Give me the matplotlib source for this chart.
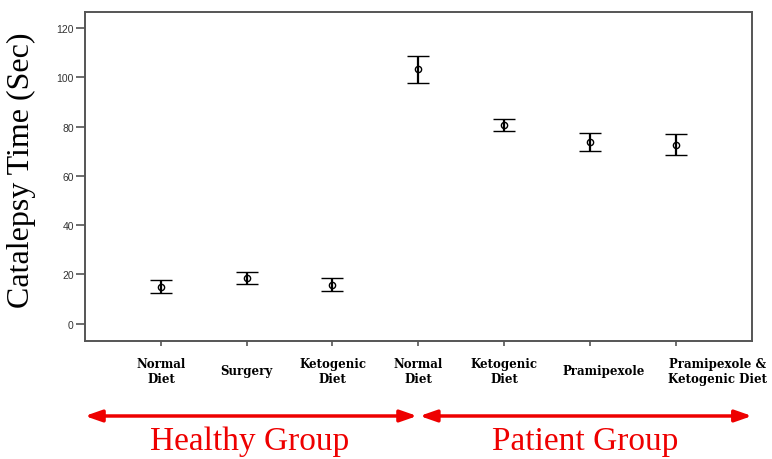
import numpy as np
import matplotlib
matplotlib.use("Agg")
import matplotlib.pyplot as plt
import matplotlib.transforms as mtransforms

# group means and error bar half-widths (sec)
groups = ["Normal\nDiet", "Surgery", "Ketogenic\nDiet", "Normal\nDiet",
          "Ketogenic\nDiet", "Pramipexole", "Pramipexole &\nKetogenic Diet"]
means = [15.0, 18.6, 15.8, 103.2, 80.7, 73.7, 72.6]
errs = [2.6, 2.3, 2.6, 5.4, 2.5, 3.7, 4.3]
yticks = [0, 20, 40, 60, 80, 100, 120]


def main():
    fig = plt.figure(figsize=(7.72, 4.6), dpi=100)
    ax = fig.add_axes([0.110, 0.2565, 0.864, 0.7155])

    pos = np.arange(len(groups))
    ax.errorbar(pos, means, yerr=errs, fmt='o', color='black', mfc='none',
                ms=4.5, mew=1.0, elinewidth=1.6, capsize=7.9, capthick=1.6)

    ax.set_xlim(-0.886, 6.89)
    ax.set_ylim(-7, 126.5)
    ax.set_yticks(yticks)
    ax.set_yticklabels([str(t) for t in yticks], fontsize=7.5, color='#333333',
                       family='Liberation Sans')
    ax.set_xticks(pos)
    ax.set_xticklabels(groups, fontsize=8.5, fontweight='bold',
                       family='DejaVu Serif', linespacing=1.15)
    ax.tick_params(axis='y', length=6.5, width=1.2, color='#555555', pad=1.5)
    ax.tick_params(axis='x', length=3.5, width=1.2, color='#555555', pad=18)

    # multi-line labels are centred vertically, the last two sit right of their ticks
    shifts = [0, 0, 0, 0, 0, 14, 42]
    for lab, dx in zip(ax.get_xticklabels(), shifts):
        lab.set_va('center')
        lab.set_transform(lab.get_transform() +
                          mtransforms.ScaledTranslation(dx / 100, 0, fig.dpi_scale_trans))

    for sp in ax.spines.values():
        sp.set_color('#555555')
        sp.set_linewidth(1.4)

    fig.text(21 / 772, 1 - 170 / 460, "Catalepsy Time (Sec)", rotation=90,
             ha='center', va='center', fontsize=23, family='Liberation Serif')

    # group arrows
    red = '#ee0000'
    arr = dict(arrowstyle='<|-|>,head_length=1.0,head_width=0.35', color=red, lw=2.5,
               shrinkA=0, shrinkB=0)
    ax.annotate('', xy=(0.0, 0.0935), xytext=(0.498, 0.0935),
                xycoords=('axes fraction', 'figure fraction'),
                textcoords=('axes fraction', 'figure fraction'), arrowprops=arr)
    ax.annotate('', xy=(0.502, 0.0935), xytext=(1.0, 0.0935),
                xycoords=('axes fraction', 'figure fraction'),
                textcoords=('axes fraction', 'figure fraction'), arrowprops=arr)

    trans = mtransforms.blended_transform_factory(ax.transAxes, fig.transFigure)
    ax.text(0.247, 0.040, "Healthy Group", transform=trans, ha='center', va='center',
            fontsize=24, color=red, family='Liberation Serif')
    ax.text(0.750, 0.040, "Patient Group", transform=trans, ha='center', va='center',
            fontsize=24, color=red, family='Liberation Serif')

    fig.savefig("out.png", dpi=100)


if __name__ == "__main__":
    main()
